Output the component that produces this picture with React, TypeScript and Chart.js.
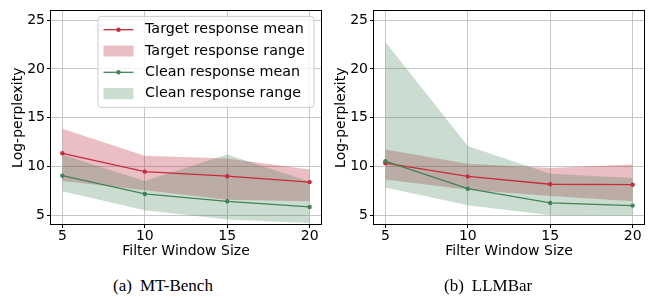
import React, { useEffect, useRef } from 'react';
import { Chart, registerables } from 'chart.js';

Chart.register(...registerables);

// ---------- data ----------
const windowSizes = [5, 10, 15, 20];
const xTicks = [5, 10, 15, 20];
const yTicks = [5, 10, 15, 20, 25];

// (a) MT-Bench
const mtTargetMean = [11.35, 9.47, 9.01, 8.4];
const mtTargetUpper = [13.87, 11.1, 10.82, 9.68];
const mtTargetLower = [8.5, 7.55, 6.6, 6.43];
const mtCleanMean = [9.05, 7.18, 6.43, 5.85];
const mtCleanUpper = [11.2, 8.5, 11.22, 8.45];
const mtCleanLower = [7.45, 5.5, 4.56, 4.2];

// (b) LLMBar
const llmTargetMean = [10.34, 8.98, 8.18, 8.13];
const llmTargetUpper = [11.73, 10.27, 9.85, 10.2];
const llmTargetLower = [8.67, 7.62, 6.97, 6.43];
const llmCleanMean = [10.54, 7.72, 6.26, 5.99];
const llmCleanUpper = [22.76, 12.1, 9.25, 8.81];
const llmCleanLower = [7.85, 6.02, 5.0, 4.97];

const legendLabels = [
  'Target response mean',
  'Target response range',
  'Clean response mean',
  'Clean response range',
];
const xTitle = 'Filter Window Size';
const yTitle = 'Log-perplexity';

// ---------- styles ----------
const FONT = "'DejaVu Sans', sans-serif";
const RED = 'rgb(198, 44, 62)';
const RED_FILL = 'rgba(190, 40, 60, 0.3)';
const GREEN = 'rgb(66, 130, 84)';
const GREEN_FILL = 'rgba(60, 130, 80, 0.27)';
const GRID = '#c6c6c6';

type Panel = {
  targetMean: number[];
  targetUpper: number[];
  targetLower: number[];
  cleanMean: number[];
  cleanUpper: number[];
  cleanLower: number[];
};

const mtPanel: Panel = {
  targetMean: mtTargetMean,
  targetUpper: mtTargetUpper,
  targetLower: mtTargetLower,
  cleanMean: mtCleanMean,
  cleanUpper: mtCleanUpper,
  cleanLower: mtCleanLower,
};
const llmPanel: Panel = {
  targetMean: llmTargetMean,
  targetUpper: llmTargetUpper,
  targetLower: llmTargetLower,
  cleanMean: llmCleanMean,
  cleanUpper: llmCleanUpper,
  cleanLower: llmCleanLower,
};

function ChartPanel({ panel, showLegend }: { panel: Panel; showLegend: boolean }) {
  const ref = useRef<HTMLCanvasElement>(null);
  useEffect(() => {
    const pts = (arr: number[]) => windowSizes.map((x, i) => ({ x, y: arr[i] }));
    const hidden = 'rgba(0,0,0,0)';

    const spinePlugin = {
      id: 'spines',
      afterDatasetsDraw(chart: any) {
        const { ctx, chartArea: a } = chart;
        ctx.save();
        ctx.strokeStyle = '#000';
        ctx.lineWidth = 1;
        ctx.strokeRect(Math.round(a.left) + 0.5, Math.round(a.top) + 0.5, Math.round(a.right - a.left) - 1, Math.round(a.bottom - a.top) - 1);
        ctx.restore();
      },
    };

    const legendPlugin = {
      id: 'mplLegend',
      afterDraw(chart: any) {
        if (!showLegend) return;
        const { ctx, chartArea: a } = chart;
        const w = 216;
        const h = 91;
        const x0 = a.right - 8 - w;
        const y0 = a.top + 6;
        ctx.save();
        const r = 3;
        ctx.beginPath();
        ctx.moveTo(x0 + r, y0);
        ctx.lineTo(x0 + w - r, y0);
        ctx.arcTo(x0 + w, y0, x0 + w, y0 + r, r);
        ctx.lineTo(x0 + w, y0 + h - r);
        ctx.arcTo(x0 + w, y0 + h, x0 + w - r, y0 + h, r);
        ctx.lineTo(x0 + r, y0 + h);
        ctx.arcTo(x0, y0 + h, x0, y0 + h - r, r);
        ctx.lineTo(x0, y0 + r);
        ctx.arcTo(x0, y0, x0 + r, y0, r);
        ctx.closePath();
        ctx.fillStyle = 'rgba(255,255,255,0.8)';
        ctx.fill();
        ctx.strokeStyle = '#cccccc';
        ctx.lineWidth = 1;
        ctx.stroke();

        const styles = [
          { kind: 'line', color: RED },
          { kind: 'patch', color: RED_FILL },
          { kind: 'line', color: GREEN },
          { kind: 'patch', color: GREEN_FILL },
        ];
        const hx0 = x0 + 5.5;
        const hx1 = x0 + 35.5;
        legendLabels.forEach((label, i) => {
          const cy = y0 + 13.3 + i * 21.3;
          const s = styles[i];
          if (s.kind === 'line') {
            ctx.strokeStyle = s.color;
            ctx.lineWidth = 1.3;
            ctx.beginPath();
            ctx.moveTo(hx0, cy);
            ctx.lineTo(hx1, cy);
            ctx.stroke();
            ctx.fillStyle = s.color;
            ctx.beginPath();
            ctx.arc((hx0 + hx1) / 2, cy, 2.2, 0, Math.PI * 2);
            ctx.fill();
          } else {
            ctx.fillStyle = s.color;
            ctx.fillRect(hx0, cy - 5.5, hx1 - hx0, 11);
          }
          ctx.fillStyle = '#000';
          ctx.font = `14.3px ${FONT}`;
          ctx.textBaseline = 'middle';
          ctx.textAlign = 'left';
          ctx.fillText(label, x0 + 47, cy);
        });
        ctx.restore();
      },
    };

    const tickFont = { family: FONT, size: 14 };
    const chart = new Chart(ref.current as HTMLCanvasElement, {
      type: 'line',
      data: {
        datasets: [
          {
            label: legendLabels[1],
            data: pts(panel.targetUpper),
            fill: 1,
            backgroundColor: RED_FILL,
            borderColor: hidden,
            borderWidth: 0,
            pointRadius: 0,
            order: 6,
          },
          {
            label: 'target lower',
            data: pts(panel.targetLower),
            fill: false,
            borderColor: hidden,
            borderWidth: 0,
            pointRadius: 0,
            order: 5,
          },
          {
            label: legendLabels[3],
            data: pts(panel.cleanUpper),
            fill: 3,
            backgroundColor: GREEN_FILL,
            borderColor: hidden,
            borderWidth: 0,
            pointRadius: 0,
            order: 4,
          },
          {
            label: 'clean lower',
            data: pts(panel.cleanLower),
            fill: false,
            borderColor: hidden,
            borderWidth: 0,
            pointRadius: 0,
            order: 3,
          },
          {
            label: legendLabels[0],
            data: pts(panel.targetMean),
            fill: false,
            borderColor: RED,
            backgroundColor: RED,
            borderWidth: 1.3,
            pointRadius: 2.2,
            pointBorderWidth: 0,
            pointBackgroundColor: RED,
            order: 2,
          },
          {
            label: legendLabels[2],
            data: pts(panel.cleanMean),
            fill: false,
            borderColor: GREEN,
            backgroundColor: GREEN,
            borderWidth: 1.3,
            pointRadius: 2.2,
            pointBorderWidth: 0,
            pointBackgroundColor: GREEN,
            order: 1,
          },
        ],
      },
      options: {
        animation: false,
        responsive: false,
        maintainAspectRatio: false,
        devicePixelRatio: 1,
        layout: { padding: { left: 0, right: 4, top: 9, bottom: 0 } },
        plugins: { legend: { display: false }, tooltip: { enabled: false } },
        elements: { line: { tension: 0 } },
        scales: {
          x: {
            type: 'linear',
            min: 4.25,
            max: 20.75,
            bounds: 'data',
            afterBuildTicks: (s: any) => {
              s.ticks = xTicks.map((v) => ({ value: v }));
            },
            afterFit: (s: any) => {
              s.height = 35;
            },
            ticks: { color: '#000', font: tickFont, padding: 0, maxRotation: 0, autoSkip: false },
            grid: { color: GRID, lineWidth: 1, tickColor: '#000', tickLength: 3, tickWidth: 1 },
            border: { display: false },
            title: {
              display: true,
              text: xTitle,
              color: '#000',
              font: tickFont,
              padding: { top: 0, bottom: 0.6 },
            },
          },
          y: {
            type: 'linear',
            min: 4,
            max: 26,
            bounds: 'data',
            afterBuildTicks: (s: any) => {
              s.ticks = yTicks.map((v) => ({ value: v }));
            },
            afterFit: (s: any) => {
              s.width = 50;
            },
            ticks: { color: '#000', font: tickFont, padding: 2, autoSkip: false },
            grid: { color: GRID, lineWidth: 1, tickColor: '#000', tickLength: 3, tickWidth: 1 },
            border: { display: false },
            title: {
              display: true,
              text: yTitle,
              color: '#000',
              font: tickFont,
              padding: { top: 10, bottom: 0 },
            },
          },
        },
      } as any,
      plugins: [spinePlugin, legendPlugin],
    });
    return () => chart.destroy();
  }, [panel, showLegend]);
  return <canvas ref={ref} width={326} height={260} style={{ width: 326, height: 260, display: 'block' }} />;
}

const captionStyle: React.CSSProperties = {
  position: 'absolute',
  top: 277,
  fontFamily: "'Liberation Serif', 'Times New Roman', serif",
  fontSize: 17,
  lineHeight: '17px',
  color: '#000',
  whiteSpace: 'nowrap',
};

export default function App() {
  return (
    <div style={{ position: 'fixed', left: 0, top: 0, width: 652, height: 297, background: '#fff', overflow: 'hidden' }}>
      <div style={{ position: 'absolute', left: 0, top: 0 }}>
        <ChartPanel panel={mtPanel} showLegend={true} />
      </div>
      <div style={{ position: 'absolute', left: 323, top: 0 }}>
        <ChartPanel panel={llmPanel} showLegend={false} />
      </div>
      <div style={{ ...captionStyle, left: 113 }}>
        <span>(a)</span>
        <span style={{ marginLeft: 8 }}>MT-Bench</span>
      </div>
      <div style={{ ...captionStyle, left: 444 }}>
        <span>(b)</span>
        <span style={{ marginLeft: 8 }}>LLMBar</span>
      </div>
    </div>
  );
}
